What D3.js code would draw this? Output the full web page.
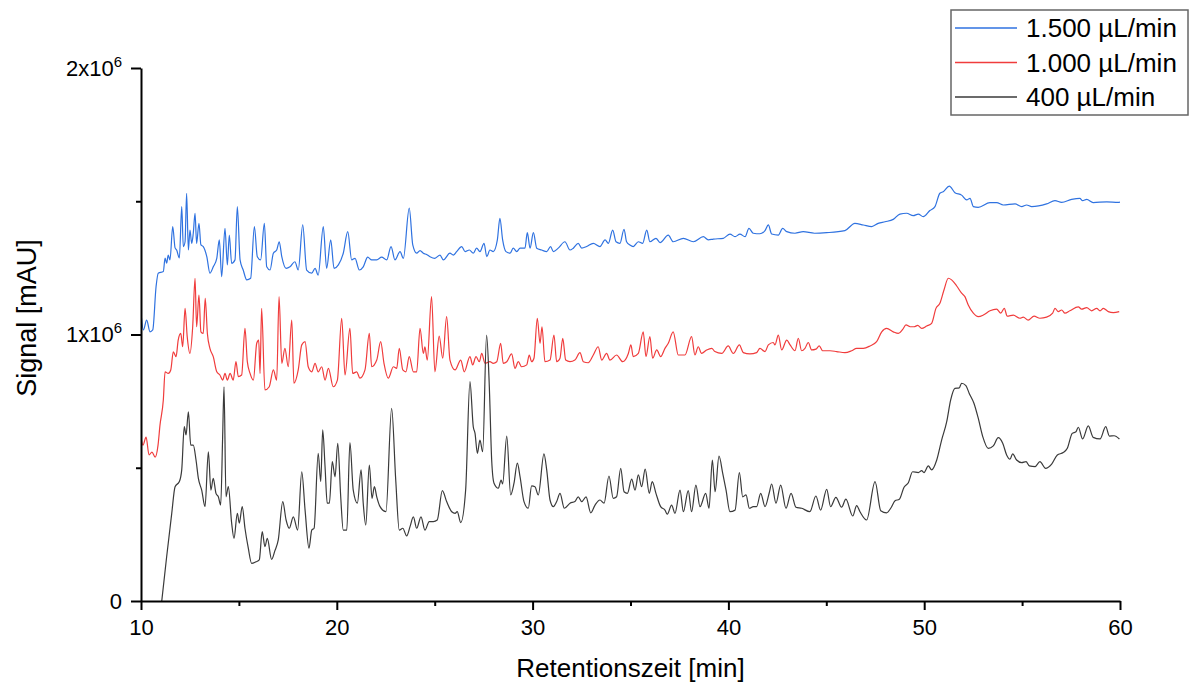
<!DOCTYPE html>
<html>
<head>
<meta charset="utf-8">
<script src="https://cdn.jsdelivr.net/npm/d3@7"></script>
<style>
  body { margin: 0; background: #fff; }
  svg { font-family: "Liberation Sans", Arial, sans-serif; }
</style>
</head>
<body>
<svg id="chart" width="1192" height="687"></svg>
<script>
// series names + colours
var seriesNames = ["1.500 µL/min", "1.000 µL/min", "400 µL/min"];
var seriesColors = ["#2f72e0", "#f03c3c", "#3a3a3a"];

// tick values
var xMajor = [10, 20, 30, 40, 50, 60],
    xMinor = [15, 25, 35, 45, 55],
    yMajor = [0, 1e6, 2e6],
    yMinor = [0.5e6, 1.5e6];

// [retention time (min), signal (x10^6 mAU)]
var flow1500 = [
  [10.00,1.081],[10.12,1.017],[10.29,1.054],[10.46,1.010],[10.60,1.017],[10.77,1.180],[10.88,1.230],[11.14,1.236],
  [11.23,1.287],[11.31,1.268],[11.39,1.298],[11.48,1.280],[11.62,1.405],[11.74,1.325],[11.82,1.317],[11.96,1.287],
  [12.08,1.480],[12.16,1.330],[12.25,1.348],[12.33,1.530],[12.42,1.317],[12.50,1.392],[12.59,1.342],[12.67,1.380],
  [12.76,1.455],[12.84,1.342],[12.96,1.417],[13.06,1.336],[13.18,1.330],[13.36,1.292],[13.52,1.230],[13.69,1.254],
  [13.87,1.286],[14.00,1.355],[14.12,1.217],[14.29,1.398],[14.41,1.261],[14.51,1.373],[14.63,1.267],[14.80,1.280],
  [14.92,1.480],[15.06,1.280],[15.22,1.242],[15.40,1.205],[15.60,1.211],[15.79,1.405],[15.94,1.292],[16.11,1.280],
  [16.30,1.417],[16.42,1.254],[16.59,1.242],[16.76,1.305],[16.93,1.317],[17.06,1.348],[17.19,1.292],[17.41,1.248],
  [17.61,1.254],[17.86,1.273],[18.03,1.242],[18.26,1.411],[18.46,1.242],[18.72,1.230],[18.89,1.248],[19.05,1.223],
  [19.31,1.405],[19.48,1.248],[19.69,1.355],[19.86,1.248],[20.08,1.261],[20.33,1.305],[20.56,1.386],[20.76,1.280],
  [20.93,1.286],[21.15,1.242],[21.35,1.254],[21.58,1.290],[21.78,1.280],[22.04,1.280],[22.29,1.290],[22.55,1.280],
  [22.77,1.330],[22.97,1.280],[23.23,1.311],[23.40,1.286],[23.70,1.474],[23.88,1.336],[24.08,1.305],[24.25,1.315],
  [24.42,1.305],[24.59,1.300],[24.76,1.292],[25.01,1.286],[25.27,1.298],[25.44,1.280],[25.78,1.305],[25.95,1.298],
  [26.12,1.311],[26.38,1.330],[26.55,1.311],[26.77,1.317],[26.97,1.305],[27.14,1.324],[27.31,1.311],[27.52,1.342],
  [27.66,1.292],[27.82,1.317],[27.99,1.311],[28.20,1.355],[28.33,1.436],[28.47,1.355],[28.64,1.311],[28.85,1.305],
  [29.01,1.324],[29.19,1.311],[29.36,1.324],[29.61,1.324],[29.73,1.382],[29.87,1.324],[30.04,1.382],[30.21,1.324],
  [30.46,1.317],[30.72,1.311],[30.92,1.330],[31.06,1.311],[31.31,1.324],[31.65,1.348],[31.91,1.317],[32.08,1.324],
  [32.33,1.342],[32.51,1.324],[32.76,1.330],[33.10,1.342],[33.44,1.330],[33.70,1.355],[33.87,1.342],[34.09,1.392],
  [34.26,1.348],[34.46,1.342],[34.67,1.395],[34.80,1.348],[34.97,1.336],[35.14,1.330],[35.40,1.348],[35.62,1.342],
  [35.83,1.392],[35.99,1.348],[36.30,1.361],[36.51,1.345],[36.93,1.373],[37.18,1.348],[37.70,1.361],[38.21,1.348],
  [38.72,1.367],[38.97,1.355],[39.23,1.358],[39.74,1.361],[40.08,1.377],[40.34,1.367],[40.59,1.377],[40.85,1.367],
  [41.05,1.398],[41.27,1.380],[41.61,1.378],[41.87,1.390],[42.04,1.411],[42.21,1.377],[42.55,1.373],[42.77,1.398],
  [42.98,1.386],[43.40,1.380],[43.82,1.386],[44.40,1.380],[45.02,1.382],[45.95,1.390],[46.46,1.417],[46.89,1.411],
  [47.32,1.405],[47.65,1.417],[48.00,1.423],[48.42,1.432],[48.76,1.452],[49.10,1.455],[49.44,1.446],[49.70,1.452],
  [49.95,1.442],[50.29,1.465],[50.55,1.480],[50.80,1.530],[50.97,1.536],[51.28,1.557],[51.57,1.532],[51.91,1.523],
  [52.17,1.505],[52.34,1.511],[52.51,1.480],[52.76,1.477],[53.36,1.495],[53.70,1.495],[54.04,1.486],[54.64,1.490],
  [54.98,1.480],[55.23,1.486],[55.49,1.480],[56.25,1.490],[56.68,1.502],[57.02,1.496],[57.53,1.507],[57.95,1.511],
  [58.09,1.502],[58.30,1.507],[58.63,1.495],[59.32,1.498],[59.91,1.496],[60.00,1.497]
];

var flow1000 = [
  [10.00,0.615],[10.10,0.585],[10.26,0.615],[10.41,0.548],[10.56,0.559],[10.72,0.540],[10.87,0.585],[10.97,0.660],
  [11.14,0.754],[11.23,0.860],[11.39,0.854],[11.52,0.867],[11.65,0.935],[11.79,0.917],[11.90,0.979],[12.03,1.004],
  [12.13,0.954],[12.25,1.098],[12.36,0.992],[12.50,0.929],[12.64,1.029],[12.76,1.211],[12.84,1.029],[12.96,1.148],
  [13.06,1.010],[13.18,1.004],[13.28,1.136],[13.39,1.004],[13.52,0.948],[13.69,0.917],[13.87,0.860],[14.03,0.848],
  [14.17,0.829],[14.29,0.854],[14.41,0.829],[14.55,0.854],[14.71,0.829],[14.85,0.898],[14.97,0.842],[15.14,0.848],
  [15.31,1.023],[15.43,0.898],[15.57,0.854],[15.74,0.829],[15.91,0.967],[16.01,0.979],[16.08,0.854],[16.16,1.098],
  [16.33,0.792],[16.55,0.804],[16.76,0.867],[16.93,0.829],[17.05,1.142],[17.19,0.892],[17.35,0.948],[17.52,0.879],
  [17.70,1.054],[17.81,0.817],[18.03,0.867],[18.21,0.961],[18.38,0.973],[18.54,0.879],[18.72,0.860],[18.89,0.892],
  [19.05,0.860],[19.23,0.879],[19.40,0.829],[19.57,0.873],[19.82,0.804],[20.03,0.829],[20.25,1.061],[20.42,0.848],
  [20.67,1.023],[20.81,0.854],[21.02,0.860],[21.18,0.836],[21.44,0.867],[21.66,1.004],[21.78,0.879],[22.04,0.904],
  [22.24,0.973],[22.41,0.892],[22.63,0.836],[22.89,0.879],[23.06,0.873],[23.19,0.948],[23.37,0.867],[23.53,0.860],
  [23.70,0.917],[23.91,0.860],[24.08,0.860],[24.25,1.023],[24.42,0.929],[24.50,0.954],[24.62,0.904],[24.84,1.142],
  [25.01,0.860],[25.23,0.994],[25.41,0.911],[25.61,1.067],[25.78,0.904],[26.04,0.867],[26.33,0.904],[26.51,0.860],
  [26.80,0.917],[26.94,0.886],[27.11,0.917],[27.28,0.898],[27.40,0.929],[27.57,0.892],[27.82,0.898],[27.99,0.892],
  [28.17,0.898],[28.37,0.967],[28.50,0.892],[28.68,0.898],[28.93,0.927],[29.10,0.873],[29.27,0.898],[29.44,0.879],
  [29.70,0.886],[29.83,0.923],[29.95,0.898],[30.07,0.911],[30.24,1.061],[30.38,0.967],[30.48,1.029],[30.63,0.898],
  [30.89,0.904],[31.09,0.998],[31.23,0.898],[31.40,0.911],[31.54,0.986],[31.69,0.904],[31.91,0.898],[32.16,0.904],
  [32.42,0.932],[32.59,0.898],[32.84,0.894],[33.10,0.923],[33.35,0.954],[33.53,0.904],[33.78,0.929],[33.95,0.904],
  [34.29,0.923],[34.60,0.898],[34.89,0.929],[35.02,0.961],[35.14,0.917],[35.40,0.929],[35.65,1.010],[35.79,0.917],
  [35.99,0.992],[36.13,0.911],[36.34,0.942],[36.54,0.917],[36.76,0.948],[36.93,0.967],[37.18,1.010],[37.44,0.923],
  [37.78,0.923],[38.12,0.992],[38.29,0.923],[38.46,0.954],[38.63,0.929],[38.89,0.942],[39.15,0.948],[39.31,0.936],
  [39.66,0.929],[39.99,0.957],[40.25,0.929],[40.56,0.961],[40.76,0.932],[41.10,0.927],[41.44,0.932],[41.61,0.948],
  [41.87,0.936],[42.04,0.961],[42.29,0.970],[42.38,0.961],[42.55,0.998],[42.72,0.942],[42.98,0.979],[43.15,0.961],
  [43.40,0.939],[43.57,0.986],[43.74,0.939],[43.91,0.948],[44.08,0.970],[44.25,0.942],[44.47,0.945],[44.64,0.957],
  [44.81,0.939],[45.19,0.939],[45.53,0.936],[45.95,0.932],[46.29,0.939],[46.55,0.948],[46.89,0.948],[47.23,0.957],
  [47.57,0.973],[47.83,1.010],[48.08,1.023],[48.42,1.010],[48.68,1.004],[48.90,1.019],[49.07,1.036],[49.28,1.029],
  [49.48,1.029],[49.67,1.034],[49.87,1.023],[50.13,1.032],[50.38,1.042],[50.60,1.098],[50.80,1.117],[51.01,1.167],
  [51.23,1.211],[51.40,1.205],[51.66,1.182],[51.91,1.155],[52.08,1.142],[52.25,1.111],[52.51,1.080],[52.76,1.067],
  [53.02,1.073],[53.36,1.089],[53.70,1.095],[53.91,1.080],[54.09,1.098],[54.24,1.069],[54.55,1.073],[54.89,1.061],
  [55.06,1.065],[55.31,1.054],[55.61,1.069],[55.91,1.061],[56.25,1.065],[56.56,1.080],[56.68,1.098],[56.85,1.086],
  [57.02,1.092],[57.19,1.080],[57.44,1.089],[57.87,1.104],[58.04,1.095],[58.30,1.101],[58.55,1.089],[58.81,1.098],
  [58.98,1.089],[59.15,1.098],[59.40,1.086],[59.66,1.082],[59.96,1.086]
];

var flow400 = [
  [11.06,0.000],[11.31,0.166],[11.57,0.329],[11.74,0.429],[11.96,0.448],[12.08,0.492],[12.21,0.654],[12.30,0.623],
  [12.42,0.710],[12.54,0.585],[12.67,0.585],[12.81,0.529],[12.93,0.460],[13.10,0.416],[13.27,0.354],[13.44,0.560],
  [13.57,0.416],[13.69,0.460],[13.83,0.404],[13.95,0.391],[14.07,0.360],[14.17,0.617],[14.24,0.804],[14.34,0.391],
  [14.46,0.429],[14.63,0.292],[14.75,0.235],[14.92,0.329],[15.02,0.292],[15.17,0.354],[15.31,0.273],[15.48,0.198],
  [15.65,0.141],[15.87,0.147],[16.04,0.154],[16.19,0.260],[16.33,0.204],[16.45,0.235],[16.67,0.156],[16.84,0.189],
  [17.01,0.229],[17.24,0.373],[17.41,0.304],[17.57,0.273],[17.78,0.316],[18.00,0.266],[18.21,0.485],[18.38,0.341],
  [18.58,0.198],[18.72,0.266],[18.84,0.273],[19.05,0.554],[19.18,0.448],[19.28,0.642],[19.40,0.504],[19.51,0.367],
  [19.62,0.367],[19.77,0.523],[19.91,0.466],[20.05,0.592],[20.20,0.391],[20.33,0.266],[20.51,0.266],[20.67,0.594],
  [20.84,0.416],[21.05,0.367],[21.24,0.492],[21.35,0.367],[21.48,0.285],[21.66,0.510],[21.80,0.385],[21.92,0.429],
  [22.04,0.391],[22.21,0.354],[22.51,0.335],[22.80,0.723],[23.01,0.454],[23.19,0.266],[23.37,0.273],[23.57,0.244],
  [23.74,0.279],[23.91,0.316],[24.08,0.273],[24.30,0.316],[24.50,0.266],[24.72,0.298],[24.93,0.298],[25.13,0.304],
  [25.39,0.414],[25.61,0.373],[25.87,0.335],[26.04,0.329],[26.15,0.335],[26.33,0.294],[26.58,0.416],[26.80,0.823],
  [26.97,0.654],[27.06,0.629],[27.18,0.554],[27.31,0.604],[27.45,0.560],[27.65,0.998],[27.79,0.804],[27.91,0.529],
  [28.03,0.442],[28.25,0.423],[28.39,0.454],[28.47,0.439],[28.68,0.619],[28.88,0.398],[29.05,0.442],[29.22,0.517],
  [29.36,0.466],[29.56,0.373],[29.78,0.348],[29.95,0.432],[30.12,0.429],[30.29,0.398],[30.58,0.552],[30.72,0.492],
  [30.89,0.379],[31.06,0.354],[31.23,0.373],[31.40,0.404],[31.62,0.348],[31.91,0.367],[32.16,0.373],[32.33,0.391],
  [32.51,0.373],[32.73,0.391],[32.97,0.331],[33.19,0.360],[33.44,0.379],[33.65,0.367],[33.90,0.469],[34.12,0.385],
  [34.29,0.391],[34.50,0.498],[34.67,0.410],[34.84,0.404],[35.06,0.457],[35.23,0.416],[35.40,0.473],[35.57,0.429],
  [35.75,0.495],[35.96,0.404],[36.11,0.448],[36.30,0.404],[36.54,0.354],[36.76,0.341],[36.88,0.326],[37.10,0.360],
  [37.27,0.329],[37.53,0.416],[37.70,0.335],[37.95,0.414],[38.12,0.335],[38.34,0.435],[38.55,0.354],[38.84,0.404],
  [39.01,0.348],[39.18,0.529],[39.32,0.410],[39.52,0.544],[39.71,0.479],[39.88,0.416],[40.08,0.335],[40.34,0.341],
  [40.56,0.482],[40.73,0.391],[40.90,0.398],[41.07,0.348],[41.27,0.354],[41.44,0.354],[41.65,0.404],[41.87,0.354],
  [42.09,0.407],[42.21,0.439],[42.43,0.367],[42.67,0.435],[42.94,0.348],[43.20,0.404],[43.45,0.352],[43.74,0.348],
  [44.16,0.335],[44.47,0.394],[44.71,0.341],[45.02,0.419],[45.22,0.354],[45.49,0.389],[45.78,0.352],[46.00,0.382],
  [46.35,0.319],[46.55,0.358],[46.72,0.335],[47.06,0.304],[47.49,0.448],[47.78,0.339],[48.08,0.331],[48.29,0.348],
  [48.51,0.376],[48.73,0.382],[48.97,0.427],[49.19,0.444],[49.41,0.485],[49.70,0.482],[49.87,0.489],[49.99,0.482],
  [50.21,0.507],[50.38,0.492],[50.64,0.529],[50.89,0.604],[51.15,0.673],[51.35,0.754],[51.57,0.798],[51.79,0.800],
  [51.91,0.817],[52.13,0.808],[52.30,0.779],[52.54,0.742],[52.76,0.686],[52.99,0.617],[53.27,0.573],[53.53,0.582],
  [53.78,0.613],[54.01,0.592],[54.21,0.548],[54.38,0.532],[54.52,0.552],[54.72,0.529],[54.98,0.519],[55.20,0.523],
  [55.37,0.507],[55.66,0.504],[55.91,0.523],[56.20,0.498],[56.51,0.514],[56.80,0.548],[57.10,0.557],[57.31,0.573],
  [57.56,0.629],[57.75,0.635],[57.87,0.652],[58.09,0.608],[58.38,0.657],[58.63,0.614],[58.98,0.608],[59.27,0.654],
  [59.46,0.619],[59.70,0.620],[59.97,0.608]
];

var allSeries = [flow1500, flow1000, flow400];

//layout
var width = 1192, height = 687,
    margin = { top: 68, right: 72, bottom: 86, left: 141 };

var svg = d3.select('#chart');

var x = d3.scaleLinear().domain([10, 60]).range([margin.left, width - margin.right]);
var y = d3.scaleLinear().domain([0, 2e6]).range([height - margin.bottom, margin.top]);

svg.append('defs').append('clipPath').attr('id', 'plotclip')
    .append('rect')
    .attr('x', x(10)).attr('y', y(2e6))
    .attr('width', x(60) - x(10)).attr('height', y(0) - y(2e6));

var line = d3.line()
    .x(function (d) { return x(d[0]); })
    .y(function (d) { return y(d[1] * 1e6); })
    .curve(d3.curveMonotoneX);

svg.append('g').attr('clip-path', 'url(#plotclip)')
    .selectAll('path')
    .data(allSeries)
    .enter().append('path')
    .attr('d', line)
    .attr('fill', 'none')
    .attr('stroke', function (d, i) { return seriesColors[i]; })
    .attr('stroke-width', 1.2)
    .attr('stroke-linejoin', 'round');

//axes
var xAxis = svg.append('g')
    .attr('transform', 'translate(0,' + y(0) + ')')
    .call(d3.axisBottom(x).tickValues(xMajor).tickSize(9).tickSizeOuter(0).tickPadding(9));
svg.append('g')
    .attr('transform', 'translate(0,' + y(0) + ')')
    .call(d3.axisBottom(x).tickValues(xMinor).tickSize(5).tickFormat(''))
    .select('.domain').remove();

var yAxis = svg.append('g')
    .attr('transform', 'translate(' + x(10) + ',0)')
    .call(d3.axisLeft(y).tickValues(yMajor).tickSize(10).tickSizeOuter(0).tickPadding(9).tickFormat(''));
svg.append('g')
    .attr('transform', 'translate(' + x(10) + ',0)')
    .call(d3.axisLeft(y).tickValues(yMinor).tickSize(5).tickFormat(''))
    .select('.domain').remove();

// y tick labels with 10^n superscript
yAxis.selectAll('.tick text').each(function (d) {
    var t = d3.select(this);
    if (d === 0) { t.text('0'); return; }
    var mant = d / 1e6;
    t.append('tspan').text(mant + 'x10');
    t.append('tspan').text('6').attr('dy', '-0.6em').attr('font-size', 15);
});

svg.selectAll('.domain').attr('stroke', '#000').attr('stroke-width', 2);
svg.selectAll('.tick line').attr('stroke', '#000').attr('stroke-width', 2);
svg.selectAll('.tick text')
    .attr('fill', '#000')
    .attr('font-size', 22)
    .attr('font-family', '"Liberation Sans", Arial, sans-serif');

//axis titles
svg.append('text')
    .attr('x', (x(10) + x(60)) / 2)
    .attr('y', 677)
    .attr('text-anchor', 'middle')
    .attr('font-size', 26)
    .text('Retentionszeit [min]');

svg.append('text')
    .attr('transform', 'translate(36,318) rotate(-90)')
    .attr('text-anchor', 'middle')
    .attr('font-size', 27)
    .text('Signal [mAU]');

//legend
var legend = svg.append('g').attr('transform', 'translate(951,10)');
legend.append('rect')
    .attr('width', 237).attr('height', 105)
    .attr('fill', '#fff')
    .attr('stroke', '#666')
    .attr('stroke-width', 1.5);
var rows = legend.selectAll('g.row')
    .data(seriesNames)
    .enter().append('g')
    .attr('class', 'row')
    .attr('transform', function (d, i) { return 'translate(0,' + (18 + i * 34.5) + ')'; });
rows.append('line')
    .attr('x1', 4).attr('x2', 66)
    .attr('stroke', function (d, i) { return seriesColors[i]; })
    .attr('stroke-width', 1.3);
rows.append('text')
    .attr('x', 75).attr('y', 9)
    .attr('font-size', 26)
    .text(function (d) { return d; });
</script>
</body>
</html>
